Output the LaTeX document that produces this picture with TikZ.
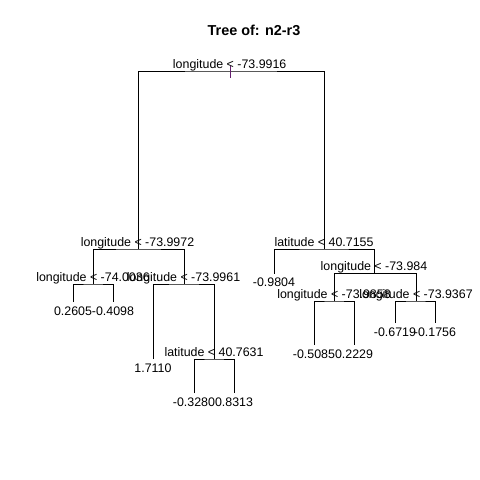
\documentclass[tikz,border=0pt]{standalone}
\usepackage{fontspec}
\setmainfont{Liberation Sans}
\begin{document}
\begin{tikzpicture}[x=1pt,y=-1pt,
  lab/.style={anchor=base,inner sep=0pt,font=\fontsize{12.4}{14}\selectfont},
  ttl/.style={anchor=base,inner sep=0pt,font=\fontsize{14.4}{16}\selectfont\bfseries},
  edge/.style={line width=0.8pt,black},
  tick/.style={line width=0.8pt,draw={rgb,255:red,100;green,30;blue,110}}]
\useasboundingbox[fill=white] (0,0) rectangle (480,480);
\node[ttl] (title) at (254,35.7) {Tree of: n2-r3};
% split points (x, bar y)
\coordinate (root) at (230.5,71);
\coordinate (A) at (138,249);
\coordinate (AA) at (93,284);
\coordinate (AB) at (184,284);
\coordinate (ABB) at (214,359);
\coordinate (B) at (324,249);
\coordinate (BB) at (374,273.5);
\coordinate (BBA) at (334,301);
\coordinate (BBB) at (416,301);
% leaf ends
\coordinate (AA1) at (73,302);
\coordinate (AA2) at (113,302);
\coordinate (ABA) at (153,359);
\coordinate (ABB1) at (194,393);
\coordinate (ABB2) at (234,393);
\coordinate (BA) at (274,273.5);
\coordinate (BBA1) at (314,345);
\coordinate (BBA2) at (354,345);
\coordinate (BBB1) at (395,323);
\coordinate (BBB2) at (435,323);
% tree edges
\draw[edge] (A) |- (root) -| (B);
\draw[edge] (AA) |- (A) -| (AB);
\draw[edge] (AA1) |- (AA) -| (AA2);
\draw[edge] (ABA) |- (AB) -| (ABB);
\draw[edge] (ABB1) |- (ABB) -| (ABB2);
\draw[edge] (BA) |- (B) -| (BB);
\draw[edge] (BBA) |- (BB) -| (BBB);
\draw[edge] (BBA1) |- (BBA) -| (BBA2);
\draw[edge] (BBB1) |- (BBB) -| (BBB2);
% root tick
\coordinate (tk1) at (230,66);
\coordinate (tk2) at (230,77.5);
\draw[tick] (tk1) -- (tk2);
% split labels
\node[lab] (lroot) at (229.7,68) {longitude < -73.9916};
\node[lab] (lA) at (137.5,246) {longitude < -73.9972};
\node[lab] (lAA) at (93,281) {longitude < -74.0036};
\node[lab] (lAB) at (183.5,281) {longitude < -73.9961};
\node[lab] (lABB) at (214,356) {latitude < 40.7631};
\node[lab] (lB) at (324,246) {latitude < 40.7155};
\node[lab] (lBB) at (374,270.5) {longitude < -73.984};
\node[lab] (lBBA) at (334,298) {longitude < -73.9858};
\node[lab] (lBBB) at (416,298) {longitude < -73.9367};
% leaf labels
\node[lab] (vAA1) at (73,315) {0.2605};
\node[lab] (vAA2) at (113,315) {-0.4098};
\node[lab] (vABA) at (153,372) {1.7110};
\node[lab] (vABB1) at (194,406) {-0.3280};
\node[lab] (vABB2) at (234,406) {0.8313};
\node[lab] (vBA) at (274,286.5) {-0.9804};
\node[lab] (vBBA1) at (314,358) {-0.5085};
\node[lab] (vBBA2) at (354,358) {0.2229};
\node[lab] (vBBB1) at (395,336) {-0.6719};
\node[lab] (vBBB2) at (435,336) {-0.1756};
\end{tikzpicture}
\end{document}
